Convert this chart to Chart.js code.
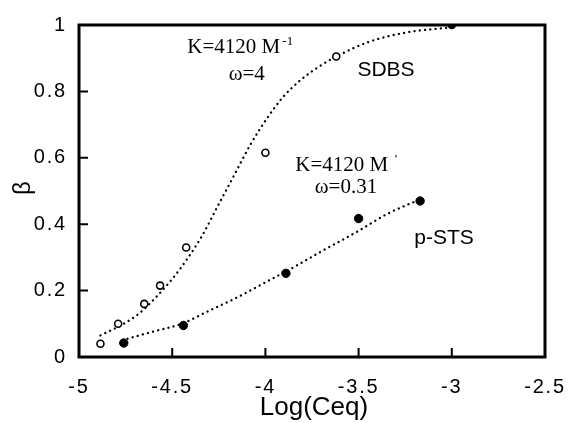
<!DOCTYPE html>
<html>
<head>
<meta charset="utf-8">
<script src="https://cdn.jsdelivr.net/npm/chart.js@4.4.1/dist/chart.umd.min.js"></script>
<style>
html,body{margin:0;padding:0;background:#ffffff;}
</style>
</head>
<body>
<canvas id="betaChart" width="569" height="423"></canvas>
<script>
/* =========================== DATA =========================== */
// SDBS measured points (open circles), last one drawn filled at saturation
var sdbsLogC = [-4.885, -4.79, -4.65, -4.565, -4.425, -4.0, -3.62, -3.0];
var sdbsBeta = [0.04, 0.10, 0.16, 0.215, 0.33, 0.615, 0.905, 1.0];

// p-STS measured points (filled circles)
var pstsLogC = [-4.76, -4.44, -3.89, -3.5, -3.17];
var pstsBeta = [0.042, 0.095, 0.252, 0.417, 0.47];

// dotted fit curves
var sdbsFitLogC = [-4.885, -4.77, -4.68, -4.59, -4.5, -4.42, -4.34, -4.26, -4.17, -4.08, -3.99, -3.91, -3.82, -3.72, -3.62, -3.45, -3.25, -3.0];
var sdbsFitBeta = [0.065, 0.097, 0.13, 0.178, 0.235, 0.295, 0.365, 0.45, 0.545, 0.64, 0.72, 0.78, 0.83, 0.872, 0.905, 0.948, 0.977, 0.993];

var pstsFitLogC = [-4.74, -4.6, -4.45, -4.3, -4.15, -4.0, -3.85, -3.7, -3.5, -3.35, -3.17];
var pstsFitBeta = [0.055, 0.077, 0.1, 0.14, 0.18, 0.225, 0.27, 0.318, 0.38, 0.43, 0.475];

var xTicks = [-5, -4.5, -4, -3.5, -3, -2.5];
var yTicks = [0, 0.2, 0.4, 0.6, 0.8, 1];

function toXY(xs, ys)
{
	return xs.map(function(x, i){ return {x: x, y: ys[i]}; });
}

/* =========================== FRAME + ANNOTATIONS plugin =========================== */
var FramePlugin =
{
	id: 'frame',
	beforeDraw: function(chart)
	{
		// tick labels in the figure are widely spaced
		chart.ctx.letterSpacing = '1.8px';
	},
	afterDraw: function(chart)
	{
		var ctx = chart.ctx;
		var a = chart.chartArea;
		var xs = chart.scales.x;
		var ys = chart.scales.y;
		ctx.save();
		ctx.letterSpacing = '0px';
		ctx.strokeStyle = '#000';
		ctx.lineWidth = 3;
		ctx.strokeRect(a.left, a.top, a.right - a.left, a.bottom - a.top);

		// inward tick marks
		ctx.lineWidth = 2;
		ctx.beginPath();
		xTicks.slice(1, -1).forEach(function(v){
			var px = xs.getPixelForValue(v);
			ctx.moveTo(px, a.bottom);
			ctx.lineTo(px, a.bottom - 9);
		});
		yTicks.slice(1, -1).forEach(function(v){
			var py = ys.getPixelForValue(v);
			ctx.moveTo(a.left, py);
			ctx.lineTo(a.left + 9, py);
		});
		ctx.stroke();

		ctx.fillStyle = '#000';
		ctx.textAlign = 'center';
		ctx.textBaseline = 'middle';

		// fit parameters (serif)
		ctx.font = '21px "Liberation Serif", serif';
		ctx.fillText('K=4120 M', xs.getPixelForValue(-4.17), ys.getPixelForValue(0.931));
		ctx.font = '13px "Liberation Serif", serif';
		ctx.fillText('-1', xs.getPixelForValue(-4.17) + 54, ys.getPixelForValue(0.931) - 6);
		ctx.font = '21px "Liberation Serif", serif';
		ctx.fillText('\u03c9=4', xs.getPixelForValue(-4.1), ys.getPixelForValue(0.851));

		ctx.fillText('K=4120 M', xs.getPixelForValue(-3.59), ys.getPixelForValue(0.578));
		ctx.font = '13px "Liberation Serif", serif';
		ctx.fillText('\'', xs.getPixelForValue(-3.59) + 54, ys.getPixelForValue(0.578) - 6);
		ctx.font = '21px "Liberation Serif", serif';
		ctx.fillText('\u03c9=0.31', xs.getPixelForValue(-3.568), ys.getPixelForValue(0.512));

		// series names
		ctx.font = '21px "Liberation Sans", Arial, sans-serif';
		ctx.fillText('SDBS', xs.getPixelForValue(-3.353), ys.getPixelForValue(0.864));
		ctx.fillText('p-STS', xs.getPixelForValue(-3.042), ys.getPixelForValue(0.358));

		// axis titles
		ctx.font = '26px "Liberation Sans", Arial, sans-serif';
		ctx.fillText('Log(Ceq)', (a.left + a.right) / 2 + 2, 408);
		ctx.translate(23, 188);
		ctx.rotate(-Math.PI / 2);
		ctx.font = '24px "Liberation Sans", Arial, sans-serif';
		ctx.fillText('\u03b2', 0, 0);
		ctx.restore();
	}
};

/* =========================== CHART =========================== */
var sdbsFill = sdbsLogC.map(function(x){ return x >= -3.0 ? '#000' : '#fff'; });

var betaChart = new Chart(document.getElementById('betaChart'), {
	type: 'scatter',
	data: {
		datasets: [
			{
				label: 'SDBS fit',
				data: toXY(sdbsFitLogC, sdbsFitBeta),
				showLine: true,
				borderColor: '#000',
				borderWidth: 2.3,
				borderDash: [0.1, 5.2],
				borderCapStyle: 'round',
				cubicInterpolationMode: 'monotone',
				pointRadius: 0,
				order: 2
			},
			{
				label: 'p-STS fit',
				data: toXY(pstsFitLogC, pstsFitBeta),
				showLine: true,
				borderColor: '#000',
				borderWidth: 2.3,
				borderDash: [0.1, 5.2],
				borderCapStyle: 'round',
				cubicInterpolationMode: 'monotone',
				pointRadius: 0,
				order: 2
			},
			{
				label: 'SDBS',
				data: toXY(sdbsLogC, sdbsBeta),
				pointRadius: 3.5,
				pointBorderWidth: 1.6,
				pointBorderColor: '#000',
				pointBackgroundColor: sdbsFill,
				order: 1
			},
			{
				label: 'p-STS',
				data: toXY(pstsLogC, pstsBeta),
				pointRadius: 4.2,
				pointBorderWidth: 1,
				pointBorderColor: '#000',
				pointBackgroundColor: '#000',
				order: 1
			}
		]
	},
	options: {
		responsive: false,
		animation: false,
		layout: { padding: { left: 0, top: 25, right: 24, bottom: 0 } },
		plugins: { legend: { display: false }, tooltip: { enabled: false } },
		scales: {
			x: {
				type: 'linear',
				min: -5, max: -2.5,
				afterFit: function(scale){ scale.height = 66; scale.paddingLeft = 0; scale.paddingRight = 0; },
				afterBuildTicks: function(scale){ scale.ticks = xTicks.map(function(v){ return {value: v}; }); },
				grid: { display: false, drawTicks: false },
				border: { display: false },
				ticks: {
					color: '#000',
					padding: 18,
					font: { family: '"Liberation Sans", Arial, sans-serif', size: 20 },
					callback: function(v){ return String(v); }
				}
			},
			y: {
				min: 0, max: 1,
				afterFit: function(scale){ scale.width = 79; scale.paddingTop = 0; scale.paddingBottom = 0; },
				afterBuildTicks: function(scale){ scale.ticks = yTicks.map(function(v){ return {value: v}; }); },
				grid: { display: false, drawTicks: false },
				border: { display: false },
				ticks: {
					color: '#000',
					padding: 12,
					font: { family: '"Liberation Sans", Arial, sans-serif', size: 20 },
					callback: function(v){ return String(+v.toFixed(1)); }
				}
			}
		}
	},
	plugins: [FramePlugin]
});
</script>
</body>
</html>
